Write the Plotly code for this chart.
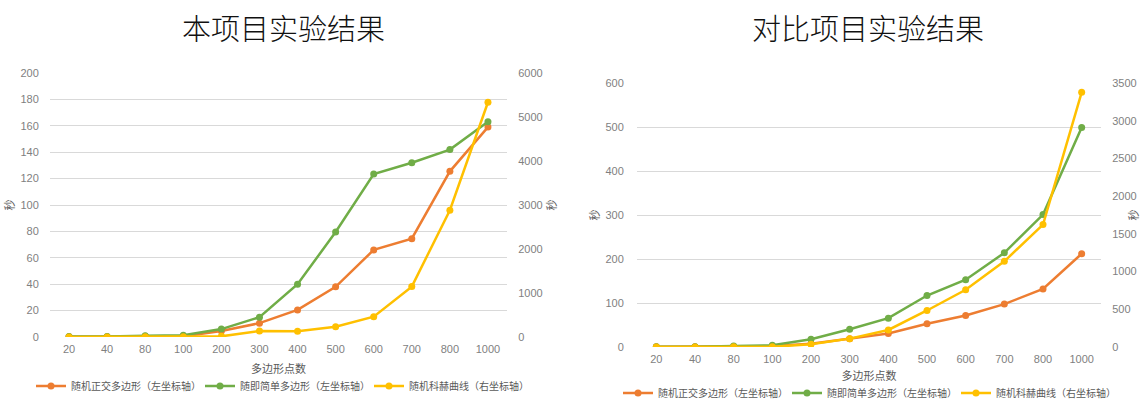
import plotly.graph_objects as go

# Polygon point counts (shared category axis)
points = ["20", "40", "80", "100", "200", "300", "400", "500", "600", "700", "800", "1000"]

# This project: runtime in seconds
own_orthogonal = [0.2, 0.2, 0.5, 0.5, 4.5, 10.5, 20.5, 38, 66, 74.5, 125.5, 159]
own_simple = [0.3, 0.3, 1.0, 1.3, 6, 15, 40, 79.5, 123.5, 132, 142, 163]
own_koch = [0, 0, 8, 8, 15, 136, 130, 235, 462, 1145, 2880, 5335]

# Comparison project: runtime in seconds
ref_orthogonal = [0.3, 0.3, 1, 2, 7.5, 19, 30.5, 53, 71.5, 97.5, 132, 212]
ref_simple = [0.5, 0.5, 2.5, 4, 17.5, 40.5, 65.5, 117, 153, 214, 301, 499]
ref_koch = [0, 0, 4, 4, 35, 111, 226, 484, 759, 1136, 1623, 3376]

names = ["随机正交多边形（左坐标轴）", "随即简单多边形（左坐标轴）", "随机科赫曲线（右坐标轴）"]
titles = ["本项目实验结果", "对比项目实验结果"]

colors = ["#ED7D31", "#70AD47", "#FFC000"]
W, H = 1141, 399
CJK = "Noto Sans CJK SC"
NUM = "Liberation Sans Narrow, Liberation Sans, Noto Sans CJK SC, sans-serif"
TICK = "#7F7F7F"
GRID = "#D9D9D9"

fig = go.Figure()

panels = [
    dict(series=[own_orthogonal, own_simple, own_koch], x="x", y="y", y2="y2", legend="legend"),
    dict(series=[ref_orthogonal, ref_simple, ref_koch], x="x2", y="y3", y2="y4", legend="legend2"),
]

for p in panels:
    for i, (vals, name, col) in enumerate(zip(p["series"], names, colors)):
        fig.add_trace(go.Scatter(
            x=points, y=vals, name=name, mode="lines+markers",
            line=dict(color=col, width=2.5),
            marker=dict(color=col, size=7, symbol="circle"),
            xaxis=p["x"], yaxis=p["y2"] if i == 2 else p["y"],
            legend=p["legend"],
        ))


def px_x(v):
    return v / W


def px_y(v):
    return (H - v) / H


tickfont = dict(family=NUM, size=11, color=TICK)
titlefont = dict(family=CJK, size=11, color="#595959")


def xaxis(domain, anchor, standoff):
    return dict(
        domain=domain, anchor=anchor, type="category", automargin=False,
        range=[-0.5, len(points) - 0.5],
        showgrid=False, showline=False, zeroline=False,
        ticks="outside", ticklen=2, tickcolor="rgba(0,0,0,0)",
        tickfont=tickfont,
        title=dict(text="多边形点数", font=titlefont, standoff=standoff),
    )


def yleft(domain, anchor, rng, dtick, ticklen):
    return dict(
        domain=domain, anchor=anchor, range=rng, dtick=dtick, automargin=False,
        showgrid=True, gridcolor=GRID, gridwidth=1,
        zeroline=False, showline=False,
        ticks="outside", ticklen=ticklen, tickcolor="rgba(0,0,0,0)",
        tickfont=tickfont,
        title=dict(text="秒", font=titlefont, standoff=3),
    )


def yright(overlay, anchor, rng, dtick):
    return dict(
        overlaying=overlay, anchor=anchor, side="right", range=rng, dtick=dtick,
        automargin=False,
        showgrid=False, zeroline=False, showline=False,
        ticks="outside", ticklen=8, tickcolor="rgba(0,0,0,0)",
        tickfont=tickfont,
        title=dict(text="秒", font=titlefont, standoff=3),
    )


legend_common = dict(
    orientation="h", xanchor="left", yanchor="middle",
    font=dict(family=CJK, size=10, color="#595959"),
    entrywidth=124, entrywidthmode="pixels", itemwidth=30,
    bgcolor="rgba(0,0,0,0)",
)

fig.update_layout(
    width=W, height=H,
    margin=dict(l=0, r=0, t=0, b=0, autoexpand=False),
    paper_bgcolor="white", plot_bgcolor="white",
    font=dict(family=CJK, color="#595959"),
    xaxis=xaxis([px_x(50), px_x(507)], "y", 11),
    yaxis=yleft([px_y(337), px_y(73)], "x", [0, 200], 20, 8),
    yaxis2=yright("y", "x", [0, 6000], 1000),
    xaxis2=xaxis([px_x(637), px_x(1101)], "y3", 8),
    yaxis3=yleft([px_y(347), px_y(83)], "x2", [0, 600], 100, 10),
    yaxis4=yright("y3", "x2", [0, 3500], 500),
    legend=dict(legend_common, x=px_x(31), y=px_y(386)),
    legend2=dict(legend_common, x=px_x(618), y=px_y(393)),
    showlegend=True,
    annotations=[
        dict(text=titles[0], x=px_x(283), y=px_y(27), xref="paper", yref="paper",
             xanchor="center", yanchor="middle", showarrow=False,
             font=dict(family=CJK, size=29, color="#111111", weight=300)),
        dict(text=titles[1], x=px_x(868), y=px_y(27), xref="paper", yref="paper",
             xanchor="center", yanchor="middle", showarrow=False,
             font=dict(family=CJK, size=29, color="#111111", weight=300)),
    ],
)

fig.write_html("out.html")
